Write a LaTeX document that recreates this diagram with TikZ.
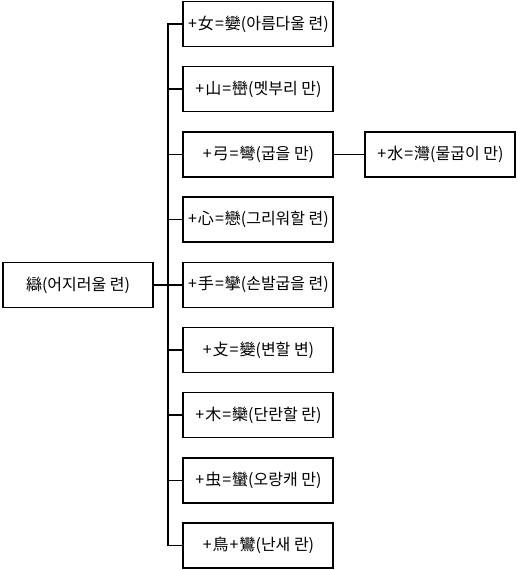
\documentclass[tikz,border=0pt]{standalone}
\usepackage{fontspec}
\setmainfont{Noto Sans CJK KR}
\newcommand\pl{\kern1pt+\kern1pt}
\newcommand\eq{\kern1pt=\kern1pt}
\begin{document}
\begin{tikzpicture}[x=1pt,y=-1pt,
  box/.style={draw,line width=1.5pt,minimum width=150pt,minimum height=45pt,inner sep=0pt,font=\fontsize{16}{18}\selectfont},
  link/.style={line width=1.5pt}]
\useasboundingbox (0,0) rectangle (518,570);
\node[box] (L) at (78,285) {䜌(어지러울 련)};
\node[box] (b1) at (258,24) {\pl{}女\eq{}孌(아름다울 련)};
\node[box] (b2) at (258,89.2) {\pl{}山\eq{}巒(멧부리 만)};
\node[box] (b3) at (258,154.4) {\pl{}弓\eq{}彎(굽을 만)};
\node[box] (b4) at (258,219.6) {\pl{}心\eq{}戀(그리워할 련)};
\node[box] (b5) at (258,284.8) {\pl{}手\eq{}攣(손발굽을 련)};
\node[box] (b6) at (258,350) {\pl{}攴\eq{}變(변할 변)};
\node[box] (b7) at (258,415.2) {\pl{}木\eq{}欒(단란할 란)};
\node[box] (b8) at (258,480.4) {\pl{}虫\eq{}蠻(오랑캐 만)};
\node[box] (b9) at (258,545.6) {\pl{}鳥\pl{}鸞(난새 란)};
\node[box] (c3) at (440,154.4) {\pl{}水\eq{}灣(물굽이 만)};
\coordinate (T) at (168,285);
\draw[link] (L.east) -- (T);
\foreach \i in {1,...,9}{\draw[link] (T) |- (b\i.west);}
\draw[link] (b3.east) -- (c3.west);
\end{tikzpicture}
\end{document}
